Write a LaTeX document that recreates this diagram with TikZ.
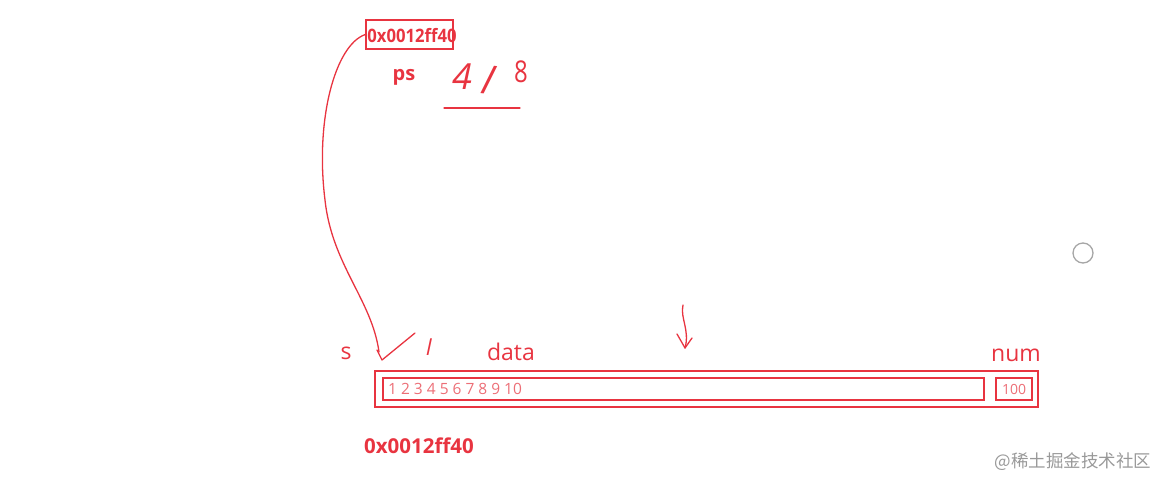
\documentclass[tikz,border=0pt]{standalone}
\usepackage{fontspec}
\setmainfont{Open Sans}
\newfontfamily\cjk{Noto Sans CJK SC}
\definecolor{ink}{RGB}{232,52,64}
\definecolor{lightink}{RGB}{236,110,118}
\begin{document}
\begin{tikzpicture}[x=1pt,y=-1pt,
  lbl/.style={text=ink,font=\bfseries\fontsize{16.5}{17}\selectfont,inner sep=0pt},
  thin lbl/.style={text=ink,font=\fontsize{23}{24}\selectfont,inner sep=0pt},
  hand/.style={draw=ink,line width=1.3pt,line cap=round,line join=round},
  boxl/.style={draw=ink,line width=1.4pt},
  every node/.style={inner sep=0pt}]
\useasboundingbox (0,0) rectangle (1170,488);
% top address box
\node[boxl,minimum width=87pt,minimum height=29pt] (addrtop) at (409.5,34.5) {};
\node[lbl,font=\bfseries\fontsize{18.5}{19}\selectfont,xscale=0.9] (addrtxt) at (412,36) {0x0012ff40};
\node[lbl,font=\bfseries\fontsize{20}{20}\selectfont] (ps) at (404,77) {ps};
\node[text=ink,font=\itshape\fontsize{36}{36}\selectfont] (four) at (462,77) {4};
\node[text=ink,font=\fontsize{40}{40}\selectfont,rotate=-6] (slash) at (489,80) {/};
\node[text=ink,font=\fontsize{30}{30}\selectfont,xscale=0.8] (eight) at (521,72) {8};
\coordinate (ulA) at (444,108);
\coordinate (ulB) at (520,108);
\draw[hand] (ulA) -- (ulB);
% curve to s
\coordinate (sptr) at (379,352);
\draw[hand] (addrtop.west) .. controls (335,45) and (315,120) .. (325,200)
  .. controls (332,265) and (372,300) .. (sptr);
% check mark
\coordinate (chkA) at (377,350);
\coordinate (chkB) at (382,360);
\coordinate (chkC) at (415,333);
\draw[hand] (chkA) -- (chkB) -- (chkC);
\node[text=ink,font=\itshape\fontsize{22}{22}\selectfont] (ell) at (429,347) {l};
% labels
\node[thin lbl] (s) at (346,353) {s};
\node[thin lbl] (data) at (511,352) {data};
\node[thin lbl] (num) at (1016,355) {num};
% down arrow
\coordinate (arrA) at (683,305);
\coordinate (arrB) at (685,348);
\draw[hand] (arrA) .. controls (680,318) and (690,330) .. (arrB);
\draw[hand] (677,334) -- (arrB) -- (692,338);
% struct boxes
\node[boxl,minimum width=663pt,minimum height=36pt] (outer) at (706.5,389) {};
\node[boxl,minimum width=601pt,minimum height=22pt] (inner) at (683.5,389) {};
\node[boxl,minimum width=36pt,minimum height=22pt,text=lightink,font=\fontsize{14}{14}\selectfont] (numbox) at (1014,389) {100};
\node[anchor=west,text=lightink,font=\fontsize{15.5}{16}\selectfont] (digits) at (388,389) {1 2 3 4 5 6 7 8 9 10};
% bottom address
\node[lbl,font=\bfseries\fontsize{20.5}{21}\selectfont] (addrbot) at (419,446) {0x0012ff40};
% gray circle
\node[draw=gray!70,line width=1.3pt,circle,minimum size=20pt] (circ) at (1083,253) {};
% watermark
\node[text=gray!80,font=\cjk\fontsize{17.5}{18}\selectfont] (wm) at (1073,462) {@稀土掘金技术社区};
\end{tikzpicture}
\end{document}
